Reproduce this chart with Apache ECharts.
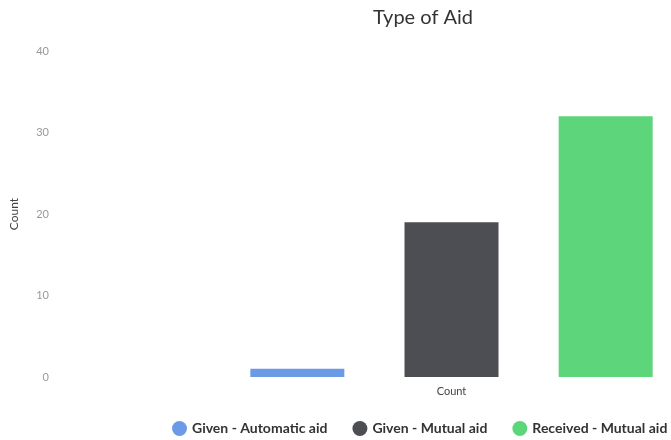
<!DOCTYPE html>
<html><head><meta charset="utf-8">
<script src="https://cdn.jsdelivr.net/npm/echarts@6/dist/echarts.min.js"></script>
<style>html,body{margin:0;padding:0;background:#fff}#c{width:671px;height:440px}</style>
</head><body><div id="c"></div>
<script>
var categories = ['Count'];
var seriesNames = ['Given - Automatic aid', 'Given - Mutual aid', 'Received - Mutual aid'];
var seriesValues = [[1], [19], [32]];
var colors = ['#6b9be6', '#4d4e53', '#5dd57a'];
var yTicks = [0, 10, 20, 30, 40];

var chart = echarts.init(document.getElementById('c'));
chart.setOption({
  animation: false,
  textStyle: {fontFamily: 'Lato'},
  title: {text: 'Type of Aid', left: 418, top: 3, textAlign: 'center',
    textStyle: {fontFamily: 'Lato', fontSize: 20, fontWeight: 'normal', color: '#333'}},
  legend: {top: 416, left: 167, width: 560, itemGap: 25, icon: 'circle', itemWidth: 15, itemHeight: 15,
    textStyle: {fontFamily: 'Lato', fontWeight: 'bold', fontSize: 14, color: '#333'},
    data: seriesNames},
  grid: {left: 230, right: 0, top: 51, bottom: 63},
  xAxis: {type: 'category', data: categories,
    axisLine: {show: false}, axisTick: {show: false},
    axisLabel: {color: '#444', fontSize: 11, margin: 9}},
  yAxis: {type: 'value', min: yTicks[0], max: yTicks[yTicks.length - 1], interval: 10,
    name: 'Count', nameLocation: 'middle', nameGap: 212, nameRotate: 90,
    nameTextStyle: {color: '#444', fontSize: 12},
    splitLine: {show: false}, axisLine: {show: false}, axisTick: {show: false},
    axisLabel: {color: '#999', fontSize: 11, margin: 183}},
  series: seriesNames.map(function (n, i) {
    return {name: n, type: 'bar', data: seriesValues[i], barWidth: 94, barGap: '64%',
      itemStyle: {color: colors[i]}};
  })
});
</script></body></html>
